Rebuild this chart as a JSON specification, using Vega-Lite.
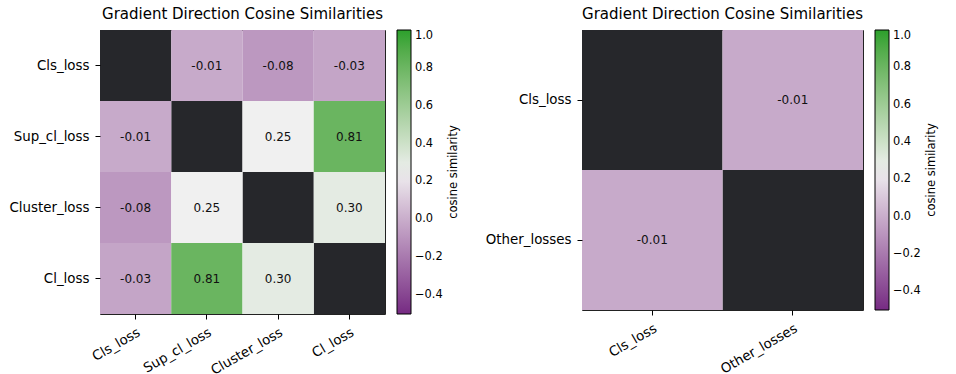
{
  "$schema": "https://vega.github.io/schema/vega-lite/v6.json",
  "padding": {"left": 8, "top": 6, "right": 0, "bottom": 0},
  "datasets": {
    "left": [
      {"r": "Cls_loss", "c": "Cls_loss", "v": null},
      {"r": "Cls_loss", "c": "Sup_cl_loss", "v": -0.01},
      {"r": "Cls_loss", "c": "Cluster_loss", "v": -0.08},
      {"r": "Cls_loss", "c": "Cl_loss", "v": -0.03},
      {"r": "Sup_cl_loss", "c": "Cls_loss", "v": -0.01},
      {"r": "Sup_cl_loss", "c": "Sup_cl_loss", "v": null},
      {"r": "Sup_cl_loss", "c": "Cluster_loss", "v": 0.25},
      {"r": "Sup_cl_loss", "c": "Cl_loss", "v": 0.81},
      {"r": "Cluster_loss", "c": "Cls_loss", "v": -0.08},
      {"r": "Cluster_loss", "c": "Sup_cl_loss", "v": 0.25},
      {"r": "Cluster_loss", "c": "Cluster_loss", "v": null},
      {"r": "Cluster_loss", "c": "Cl_loss", "v": 0.30},
      {"r": "Cl_loss", "c": "Cls_loss", "v": -0.03},
      {"r": "Cl_loss", "c": "Sup_cl_loss", "v": 0.81},
      {"r": "Cl_loss", "c": "Cluster_loss", "v": 0.30},
      {"r": "Cl_loss", "c": "Cl_loss", "v": null}
    ],
    "right": [
      {"r": "Cls_loss", "c": "Cls_loss", "v": null},
      {"r": "Cls_loss", "c": "Other_losses", "v": -0.01},
      {"r": "Other_losses", "c": "Cls_loss", "v": -0.01},
      {"r": "Other_losses", "c": "Other_losses", "v": null}
    ]
  },
  "hconcat": [
    {
      "width": 285,
      "height": 284,
      "data": {"name": "left"},
      "title": {"text": "Gradient Direction Cosine Similarities", "frame": "group"},
      "encoding": {
        "x": {"field": "c", "type": "nominal", "title": null, "scale": {"domain": ["Cls_loss", "Sup_cl_loss", "Cluster_loss", "Cl_loss"]}},
        "y": {"field": "r", "type": "nominal", "title": null, "scale": {"domain": ["Cls_loss", "Sup_cl_loss", "Cluster_loss", "Cl_loss"]}}
      },
      "layer": [
        {"transform": [{"filter": "datum.v === null"}], "mark": {"type": "rect", "color": "#26272b"}},
        {
          "transform": [{"filter": "datum.v !== null"}],
          "mark": {"type": "rect"},
          "encoding": {
            "color": {
              "field": "v", "type": "quantitative",
              "scale": {"type": "linear", "domain": [-0.5, 0.25, 1], "range": ["#762a83", "#f0f0f0", "#2ca02c"]},
              "legend": {
                "title": "cosine similarity", "gradientLength": 284, "orient": "right", "offset": 12, "padding": 0,
                "gradientThickness": 14, "gradientStrokeColor": "#000", "gradientStrokeWidth": 1,
                "labelFontSize": 11.4, "labelColor": "#000", "labelOffset": 4,
                "values": [-0.4, -0.2, 0, 0.2, 0.4, 0.6, 0.8, 1.0], "format": ".1f",
                "titleOrient": "right", "titleAnchor": "middle",
                "titleFontSize": 11.5, "titleFontWeight": "normal", "titleColor": "#000", "titlePadding": 16,
                "encode": {
                  "title": {"update": {"angle": {"value": 270}}},
                  "labels": {"update": {"text": {"signal": "replace(datum.label, '-', '−')"}}}
                }
              }
            }
          }
        },
        {
          "transform": [{"filter": "datum.v !== null"}],
          "mark": {"type": "text", "fontSize": 12, "color": "#111"},
          "encoding": {"text": {"field": "v", "type": "quantitative", "format": ".2f"}}
        }
      ]
    },
    {
      "width": 281,
      "height": 280,
      "data": {"name": "right"},
      "title": {"text": "Gradient Direction Cosine Similarities", "frame": "group"},
      "encoding": {
        "x": {"field": "c", "type": "nominal", "title": null, "scale": {"domain": ["Cls_loss", "Other_losses"]}},
        "y": {"field": "r", "type": "nominal", "title": null, "scale": {"domain": ["Cls_loss", "Other_losses"]}}
      },
      "layer": [
        {"transform": [{"filter": "datum.v === null"}], "mark": {"type": "rect", "color": "#26272b"}},
        {
          "transform": [{"filter": "datum.v !== null"}],
          "mark": {"type": "rect"},
          "encoding": {
            "color": {
              "field": "v", "type": "quantitative",
              "scale": {"type": "linear", "domain": [-0.5, 0.25, 1], "range": ["#762a83", "#f0f0f0", "#2ca02c"]},
              "legend": {
                "title": "cosine similarity", "gradientLength": 280, "orient": "right", "offset": 12, "padding": 0,
                "gradientThickness": 14, "gradientStrokeColor": "#000", "gradientStrokeWidth": 1,
                "labelFontSize": 11.4, "labelColor": "#000", "labelOffset": 4,
                "values": [-0.4, -0.2, 0, 0.2, 0.4, 0.6, 0.8, 1.0], "format": ".1f",
                "titleOrient": "right", "titleAnchor": "middle",
                "titleFontSize": 11.5, "titleFontWeight": "normal", "titleColor": "#000", "titlePadding": 16,
                "encode": {
                  "title": {"update": {"angle": {"value": 270}}},
                  "labels": {"update": {"text": {"signal": "replace(datum.label, '-', '−')"}}}
                }
              }
            }
          }
        },
        {
          "transform": [{"filter": "datum.v !== null"}],
          "mark": {"type": "text", "fontSize": 12, "color": "#111"},
          "encoding": {"text": {"field": "v", "type": "quantitative", "format": ".2f"}}
        }
      ]
    }
  ],
  "spacing": 23,
  "resolve": {"scale": {"color": "independent"}, "legend": {"color": "independent"}},
  "config": {
    "font": "DejaVu Sans",
    "locale": {"number": {"decimal": ".", "thousands": ",", "grouping": [3], "currency": ["$", ""], "minus": "-"}},
    "view": {"stroke": "#222", "strokeWidth": 1},
    "title": {"fontSize": 15, "fontWeight": "normal", "color": "#000", "offset": 8, "anchor": "middle"},
    "axis": {
      "domain": false, "grid": false, "tickColor": "#000", "tickSize": 5, "tickWidth": 1,
      "labelFontSize": 13.4, "labelColor": "#000", "labelPadding": 6
    },
    "axisX": {"labelAngle": -30},
    "text": {"font": "DejaVu Sans"}
  }
}
